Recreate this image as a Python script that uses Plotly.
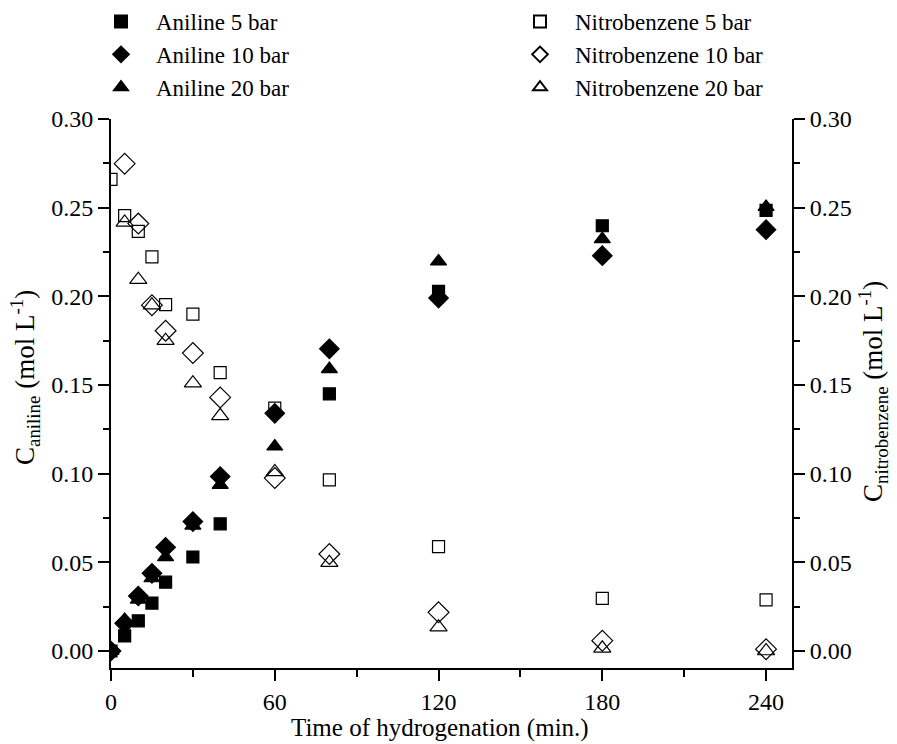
import plotly.graph_objects as go

# Time points (min)
t_an5 = [0, 5, 10, 15, 20, 30, 40, 80, 120, 180, 240]
an5 = [0.0, 0.0085, 0.017, 0.027, 0.0388, 0.053, 0.0717, 0.145, 0.2028, 0.2398, 0.2485]

t_an10 = [0, 5, 10, 15, 20, 30, 40, 60, 80, 120, 180, 240]
an10 = [0.0, 0.0156, 0.031, 0.0438, 0.0585, 0.073, 0.0984, 0.134, 0.1704, 0.199, 0.2229, 0.2376]

t_an20 = [0, 5, 10, 15, 20, 30, 40, 60, 80, 120, 180, 240]
an20 = [0.0, 0.0175, 0.029, 0.041, 0.0529, 0.0707, 0.0937, 0.1153, 0.159, 0.2197, 0.2323, 0.2504]

t_nb5 = [0, 5, 10, 15, 20, 30, 40, 60, 80, 120, 180, 240]
nb5 = [0.266, 0.2455, 0.2366, 0.2222, 0.1953, 0.190, 0.157, 0.137, 0.0965, 0.0589, 0.0297, 0.0288]

t_nb10 = [5, 10, 15, 20, 30, 40, 60, 80, 120, 180, 240]
nb10 = [0.2748, 0.241, 0.195, 0.1806, 0.168, 0.143, 0.0975, 0.0547, 0.0218, 0.0058, 0.001]

t_nb20 = [5, 10, 15, 20, 30, 40, 60, 80, 120, 180, 240]
nb20 = [0.2417, 0.2094, 0.195, 0.175, 0.151, 0.1326, 0.101, 0.0498, 0.0134, 0.0015, 0.0]

x_ticks = [0, 60, 120, 180, 240]
y_ticks = [0.00, 0.05, 0.10, 0.15, 0.20, 0.25, 0.30]

x_title = "Time of hydrogenation (min.)"
y_title = "C<sub>aniline</sub> (mol L<sup>-1</sup>)"
y2_title = "C<sub>nitrobenzene</sub> (mol L<sup>-1</sup>)"

FONT = "Liberation Serif, Times New Roman, serif"

fig = go.Figure()

def add(x, y, name, symbol, size, legend, axis, group):
    fig.add_trace(go.Scatter(
        x=x, y=y, mode="markers", name=name,
        marker=dict(symbol=symbol, size=size, color="black",
                    line=dict(color="black", width=1.2)),
        legend=legend, yaxis=axis, legendgroup=group,
        cliponaxis=True,
    ))

add(t_an5, an5, "Aniline 5 bar", "square", 12, "legend", "y", "a")
add(t_an10, an10, "Aniline 10 bar", "diamond", 15, "legend", "y", "b")
add(t_an20, an20, "Aniline 20 bar", "triangle-up", 14, "legend", "y", "c")
add(t_nb5, nb5, "Nitrobenzene 5 bar", "square-open", 12, "legend2", "y2", "d")
add(t_nb10, nb10, "Nitrobenzene 10 bar", "diamond-open", 16, "legend2", "y2", "e")
add(t_nb20, nb20, "Nitrobenzene 20 bar", "triangle-up-open", 15, "legend2", "y2", "f")

axis_common = dict(
    showline=True, linecolor="black", linewidth=2,
    ticks="outside", ticklen=11, tickwidth=2, tickcolor="black",
    showgrid=False, zeroline=False, automargin=False,
    tickfont=dict(family=FONT, size=24, color="black"),
)

legend_common = dict(
    xref="container", yref="container",
    xanchor="left", yanchor="top",
    bgcolor="rgba(0,0,0,0)", font=dict(family=FONT, size=23),
    traceorder="normal",
    itemsizing="constant", itemwidth=60,
)

fig.update_layout(
    width=897, height=744,
    margin=dict(l=111, r=105, t=119, b=76, autoexpand=False),
    paper_bgcolor="white", plot_bgcolor="white",
    font=dict(family=FONT, size=24, color="black"),
    xaxis=dict(
        range=[0, 249.5], tickvals=x_ticks,
        minor=dict(dtick=30, tick0=0, ticks="outside", ticklen=7, tickwidth=2, tickcolor="black"),
        **axis_common,
    ),
    yaxis=dict(
        range=[-0.0096, 0.30], tickvals=y_ticks, tickformat=".2f",
        minor=dict(dtick=0.025, tick0=0, ticks="outside", ticklen=6, tickwidth=2, tickcolor="black"),
        **axis_common,
    ),
    yaxis2=dict(
        range=[-0.0096, 0.30], tickvals=y_ticks, tickformat=".2f", overlaying="y", side="right",
        minor=dict(dtick=0.025, tick0=0, ticks="outside", ticklen=6, tickwidth=2, tickcolor="black"),
        **axis_common,
    ),
    legend=dict(x=86 / 897, y=1 + 4 / 744, **legend_common),
    legend2=dict(x=505 / 897, y=1 + 4 / 744, **legend_common),
    annotations=[
        dict(text=x_title, xref="paper", yref="paper", x=(440 - 111) / 681, y=(668 - 728) / 549,
             xanchor="center", yanchor="middle", showarrow=False, font=dict(family=FONT, size=25)),
        dict(text=y_title, xref="paper", yref="paper", x=(25 - 111) / 681, y=(668 - 378) / 549,
             textangle=-90, xanchor="center", yanchor="middle", showarrow=False,
             font=dict(family=FONT, size=27)),
        dict(text=y2_title, xref="paper", yref="paper", x=(873 - 111) / 681, y=(668 - 392) / 549,
             textangle=-90, xanchor="center", yanchor="middle", showarrow=False,
             font=dict(family=FONT, size=27)),
    ],
)

fig.write_html("out.html")
